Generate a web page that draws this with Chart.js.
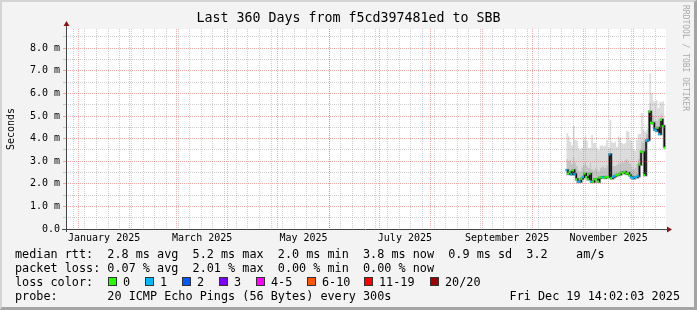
<!DOCTYPE html>
<html>
<head>
<meta charset="utf-8">
<script src="https://cdn.jsdelivr.net/npm/chart.js@4.4.1/dist/chart.umd.min.js"></script>
<style>
  html, body { margin: 0; padding: 0; background: #f3f3f3; }
  #wrap { position: relative; width: 697px; height: 310px; background: #f3f3f3; overflow: hidden;
          font-family: 'DejaVu Sans Mono', monospace; color: #000; }
  #chart { position: absolute; left: 0; top: 0; }
  #frame { position: absolute; left: 0; top: 0; width: 697px; height: 310px; box-sizing: border-box;
           border-top: 2px solid #d4d4d4; border-left: 2px solid #d4d4d4;
           border-bottom: 3px solid #a4a4a4; border-right: 3px solid #a4a4a4; pointer-events: none; }
  #title { position: absolute; left: 0; top: 10px; width: 697px; text-align: center;
           font-size: 13.3px; line-height: 16px; white-space: pre; }
  .row { position: absolute; left: 15px; font-size: 11.8px; line-height: 14px; white-space: pre; }
  .box { position: absolute; width: 7px; height: 7px; border: 1px solid #333; top: 277px; }
  .lbl { position: absolute; font-size: 11.8px; line-height: 14px; top: 275px; white-space: pre; }
  #credit { position: absolute; left: 681px; top: 5px; writing-mode: vertical-rl;
            font-size: 8px; color: #aaaaaa; white-space: pre; }
</style>
</head>
<body>
<div id="wrap">
  <canvas id="chart" width="697" height="310"></canvas>
  <div id="title">Last 360 Days from f5cd397481ed to SBB</div>
  <div id="credit">RRDTOOL / TOBI OETIKER</div>
  <div class="row" style="top:247px">median rtt:  2.8 ms avg  5.2 ms max  2.0 ms min  3.8 ms now  0.9 ms sd  3.2    am/s</div>
  <div class="row" style="top:261px">packet loss: 0.07 % avg  2.01 % max  0.00 % min  0.00 % now</div>
  <div class="row" style="top:275px">loss color:</div>
  <div class="row" style="top:289px">probe:       20 ICMP Echo Pings (56 Bytes) every 300s</div>
  <div class="row" style="top:289px; left:auto; right:17px">Fri Dec 19 14:02:03 2025</div>
  <div id="legend"></div>
  <div id="frame"></div>
</div>
<script>
// time axis: days since graph start (Dec 24 2024 14:02:03), 360 days shown
const startUtc = Date.UTC(2024, 11, 24, 14, 2, 3);
const monthStarts = ['2025-01-01', '2025-02-01', '2025-03-01', '2025-04-01', '2025-05-01', '2025-06-01',
                     '2025-07-01', '2025-08-01', '2025-09-01', '2025-10-01', '2025-11-01', '2025-12-01', '2026-01-01'];
const monthLabels = ['January 2025', 'March 2025', 'May 2025', 'July 2025', 'September 2025', 'November 2025'];
const firstSunday = '2024-12-29';

const yTickLabels = ['0.0', '1.0 m', '2.0 m', '3.0 m', '4.0 m', '5.0 m', '6.0 m', '7.0 m', '8.0 m'];

// median rtt (ms), one value per day
const days = [301, 302, 303, 304, 305, 306, 307, 308, 309, 310, 311, 312, 313, 314, 315, 316, 317, 318, 319, 320,
              321, 322, 323, 324, 325, 326, 327, 328, 329, 330, 331, 332, 333, 334, 335, 336, 337, 338, 339, 340,
              341, 342, 343, 344, 345, 346, 347, 348, 349, 350, 351, 352, 353, 354, 355, 356, 357, 358, 359, 360];
const median = [2.60, 2.45, 2.52, 2.42, 2.60, 2.42, 2.20, 2.09, 2.10, 2.22, 2.30, 2.45, 2.30, 2.20, 2.45, 2.10, 2.09, 2.20, 2.20, 2.10,
                2.27, 2.29, 2.29, 2.27, 2.30, 2.30, 3.30, 2.25, 2.30, 2.35, 2.38, 2.40, 2.42, 2.50, 2.48, 2.52, 2.45, 2.48, 2.38, 2.29,
                2.25, 2.29, 2.29, 2.35, 2.85, 3.42, 3.40, 2.39, 3.90, 3.95, 5.19, 4.70, 4.68, 4.40, 4.35, 4.48, 4.20, 4.83, 4.55, 3.60];
// lost pings out of 20
const loss = [1, 0, 0, 1, 0, 1, 0, 1, 1, 0, 1, 0, 0, 0, 0, 1, 0, 0, 0, 0,
              0, 0, 1, 0, 0, 0, 1, 0, 1, 1, 0, 0, 0, 0, 0, 0, 0, 0, 0, 1,
              1, 1, 1, 1, 0, 0, 0, 0, 1, 1, 0, 0, 0, 1, 1, 0, 1, 0, 0, 0];
// smoke: slowest ping and upper part of the ping spread (ms)
const smokeMax = [4.24, 4.10, 3.86, 3.70, 4.57, 3.94, 3.90, 3.58, 3.50, 3.60, 3.94, 4.09, 3.90, 3.58, 3.60, 4.16, 3.80, 3.80, 3.60, 3.50,
                  3.70, 3.70, 3.65, 3.70, 3.94, 3.60, 4.83, 3.86, 3.80, 3.86, 3.64, 4.09, 4.00, 3.80, 3.75, 3.80, 4.35, 4.30, 3.94, 3.90,
                  3.50, 3.45, 3.94, 4.20, 4.20, 5.13, 4.40, 4.30, 4.40, 4.60, 6.89, 6.00, 5.65, 5.60, 5.70, 5.35, 5.63, 5.60, 5.65, 5.63];
const smokeUpper = [3.10, 3.00, 3.05, 2.90, 3.20, 2.95, 2.80, 2.60, 2.55, 2.70, 2.85, 3.00, 2.80, 2.70, 2.95, 2.65, 2.60, 2.70, 2.65, 2.55,
                    2.70, 2.75, 2.80, 2.70, 2.85, 2.75, 3.60, 2.75, 2.80, 2.80, 2.85, 2.95, 2.90, 3.00, 2.95, 3.05, 3.10, 3.00, 2.90, 2.75,
                    2.65, 2.70, 2.90, 3.10, 3.40, 3.90, 3.80, 3.20, 4.20, 4.25, 5.60, 5.10, 5.00, 4.80, 4.80, 4.90, 4.70, 5.10, 4.90, 4.40];

const lossLabels = ['0', '1', '2', '3', '4-5', '6-10', '11-19', '20/20'];
const lossColors = ['#26ff00', '#00b8ff', '#0059ff', '#7e00ff', '#ff00ff', '#ff5500', '#ff0000', '#a10000'];

const dayMs = 86400000;
function toDay(s) {
    return (Date.parse(s + 'T00:00:00Z') - startUtc) / dayMs;
}

const monthDays = monthStarts.map(toDay);
const labelDays = [0, 2, 4, 6, 8, 10].map(i => (monthDays[i] + monthDays[i + 1]) / 2);
const gridDays = [];
for (let d = toDay(firstSunday); d < 361; d += 7) gridDays.push(d);
monthDays.forEach(d => { if (d < 361) gridDays.push(d); });

function isMonth(v) {
    return monthDays.some(d => Math.abs(d - v) < 1e-6);
}

// loss colour legend
const boxX = [108, 145, 182, 219, 256, 307, 364, 430];
const legend = document.getElementById('legend');
lossLabels.forEach((l, i) => {
    legend.insertAdjacentHTML('beforeend',
        `<div class="box" style="left:${boxX[i]}px;background:${lossColors[i]}"></div>` +
        `<div class="lbl" style="left:${boxX[i] + 15}px">${l}</div>`);
});

const pts = arr => days.map((d, i) => ({ x: d, y: arr[i] }));
const red = 'rgba(235, 60, 60, 0.42)';
const gray = 'rgba(140, 140, 140, 0.42)';
const tickFont = { family: 'DejaVu Sans Mono', size: 10 };

const axesPlugin = {
    id: 'axes',
    beforeDraw(c) {
        const a = c.chartArea, ctx = c.ctx;
        ctx.save();
        ctx.fillStyle = '#ffffff';
        ctx.fillRect(a.left, a.top, a.right - a.left, a.bottom - a.top);
        ctx.restore();
    },
    afterDraw(c) {
        const { left, right, top, bottom } = c.chartArea;
        const ctx = c.ctx;
        ctx.save();
        ctx.strokeStyle = '#444';
        ctx.lineWidth = 1;
        ctx.beginPath();
        ctx.moveTo(left + 0.5, bottom + 3);
        ctx.lineTo(left + 0.5, top - 5);
        ctx.moveTo(left - 4, bottom + 0.5);
        ctx.lineTo(right + 3, bottom + 0.5);
        ctx.stroke();
        ctx.fillStyle = '#8b1414';
        ctx.beginPath();
        ctx.moveTo(left + 0.5, top - 8);
        ctx.lineTo(left - 2.5, top - 3);
        ctx.lineTo(left + 3.5, top - 3);
        ctx.fill();
        ctx.beginPath();
        ctx.moveTo(right + 6, bottom + 0.5);
        ctx.lineTo(right + 1, bottom - 2.5);
        ctx.lineTo(right + 1, bottom + 3.5);
        ctx.fill();
        ctx.restore();
    }
};

new Chart(document.getElementById('chart'), {
    type: 'line',
    data: {
        datasets: [
            { data: pts(smokeMax), stepped: 'before', borderWidth: 0, borderColor: 'rgba(0,0,0,0)',
              pointRadius: 0, backgroundColor: '#dcdcdc', fill: 1, order: 4 },
            { data: pts(smokeUpper), stepped: 'before', borderWidth: 0, borderColor: 'rgba(0,0,0,0)',
              pointRadius: 0, backgroundColor: '#c4c4c4', fill: 2, order: 3 },
            { data: pts(median), stepped: 'before', borderWidth: 3, borderColor: '#a0a0a0',
              pointRadius: 0, fill: false, order: 2 },
            { data: pts(median), stepped: 'before', borderWidth: 1.5, borderColor: '#111111', fill: false,
              pointStyle: 'rect', pointRadius: 1.5, pointBorderWidth: 0,
              pointBackgroundColor: ctx => lossColors[loss[ctx.dataIndex]], order: 0 }
        ]
    },
    options: {
        responsive: false,
        animation: false,
        devicePixelRatio: 1,
        layout: { padding: { top: 29, right: 31, left: 0, bottom: 0 } },
        plugins: { legend: { display: false }, tooltip: { enabled: false }, title: { display: false } },
        scales: {
            x: {
                type: 'linear', min: 0, max: 361, position: 'bottom',
                afterBuildTicks: s => { s.ticks = gridDays.map(v => ({ value: v })); },
                afterFit: s => { s.height = 0; },
                ticks: { display: false },
                grid: { z: 1, drawTicks: false, color: ctx => (ctx.tick && isMonth(ctx.tick.value)) ? red : gray },
                border: { display: false, dash: [1, 1] }
            },
            x2: {
                type: 'linear', min: 0, max: 361, position: 'bottom',
                afterBuildTicks: s => { s.ticks = labelDays.map(v => ({ value: v })); },
                afterFit: s => { s.height = 81; },
                ticks: { autoSkip: false, maxRotation: 0, minRotation: 0, padding: 3, color: '#000',
                         font: tickFont, callback: (v, i) => monthLabels[i] },
                grid: { display: false, drawTicks: false },
                border: { display: false }
            },
            y: {
                min: 0, max: 8.85,
                afterFit: s => { s.width = 66; },
                ticks: { stepSize: 0.5, autoSkip: false, includeBounds: false, padding: 3, color: '#000',
                         font: tickFont,
                         callback: v => (v % 1 === 0 ? yTickLabels[v] : '') },
                grid: { z: 1, drawTicks: true, tickLength: 3,
                        color: ctx => (ctx.tick && ctx.tick.value % 1 === 0) ? red : gray },
                border: { display: false, dash: [1, 1] },
                title: { display: true, text: 'Seconds', color: '#000', padding: { top: 5 }, font: tickFont }
            }
        }
    },
    plugins: [axesPlugin]
});
</script>
</body>
</html>
